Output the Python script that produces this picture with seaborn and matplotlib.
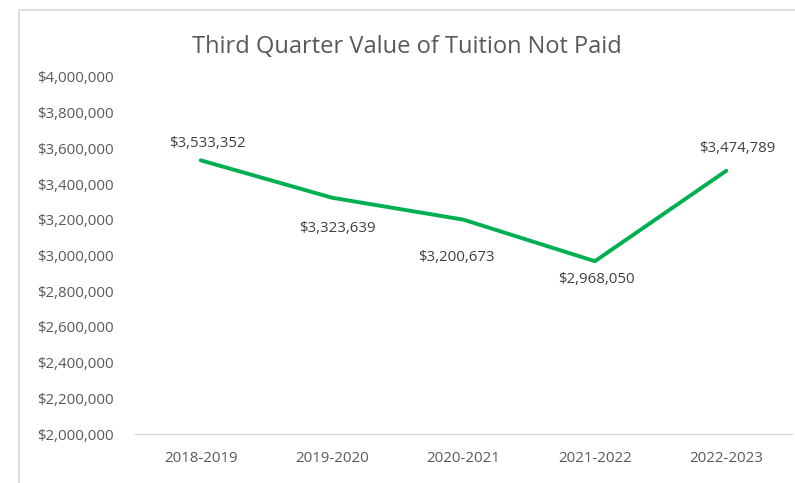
import numpy as np
import pandas as pd
import seaborn as sns
import matplotlib.pyplot as plt
from matplotlib.patches import Rectangle
from matplotlib.ticker import FuncFormatter

years = ['2018-2019', '2019-2020', '2020-2021', '2021-2022', '2022-2023']
unpaid = [3533352, 3323639, 3200673, 2968050, 3474789]
# label offsets in points (dx, dy), Excel puts some above and some below
label_offsets = [(5, 12), (4, -22), (-5, -27), (1, -13), (8, 16)]

df = pd.DataFrame({'Year': years, 'Unpaid': unpaid})

sns.set_style('white')
plt.rcParams['font.family'] = ['Open Sans', 'DejaVu Sans']

fig = plt.figure(figsize=(7.95, 4.83), dpi=100)
ax = fig.add_axes([135 / 795, 1 - 434 / 483, 657 / 795, (434 - 77) / 483])

# chart frame
fig.patches.append(Rectangle((19 / 795, -0.05), 1.0, 1 - 10 / 483 + 0.05,
                             transform=fig.transFigure, fill=False,
                             edgecolor='#d9d9d9', linewidth=1.2))

sns.lineplot(data=df, x='Year', y='Unpaid', ax=ax, color='#00b050',
             linewidth=2.8, sort=False)
ax.lines[0].set_solid_joinstyle('round')
ax.lines[0].set_solid_capstyle('round')

for i, (v, off) in enumerate(zip(unpaid, label_offsets)):
    ax.annotate(f'${v:,.0f}', (i, v), xytext=off, textcoords='offset points',
                ha='center', va='center', fontsize=10.8, color='#404040')

ax.set_xlim(-0.5, len(years) - 0.5)
ax.set_ylim(2000000, 4000000)
ax.set_yticks(np.arange(2000000, 4000001, 200000))
ax.yaxis.set_major_formatter(FuncFormatter(lambda v, p: f'${v:,.0f}'))
ax.tick_params(axis='both', length=0, labelsize=10.8, colors='#595959')
ax.tick_params(axis='y', pad=15)
ax.tick_params(axis='x', pad=12)
ax.set_xlabel('')
ax.set_ylabel('')
for s in ['top', 'right', 'left']:
    ax.spines[s].set_visible(False)
ax.spines['bottom'].set_color('#d9d9d9')
ax.spines['bottom'].set_linewidth(1.0)

fig.text(407 / 795, 1 - 47 / 483, 'Third Quarter Value of Tuition Not Paid',
         ha='center', va='center', fontsize=17, color='#595959')

fig.savefig('out.png', dpi=100)
